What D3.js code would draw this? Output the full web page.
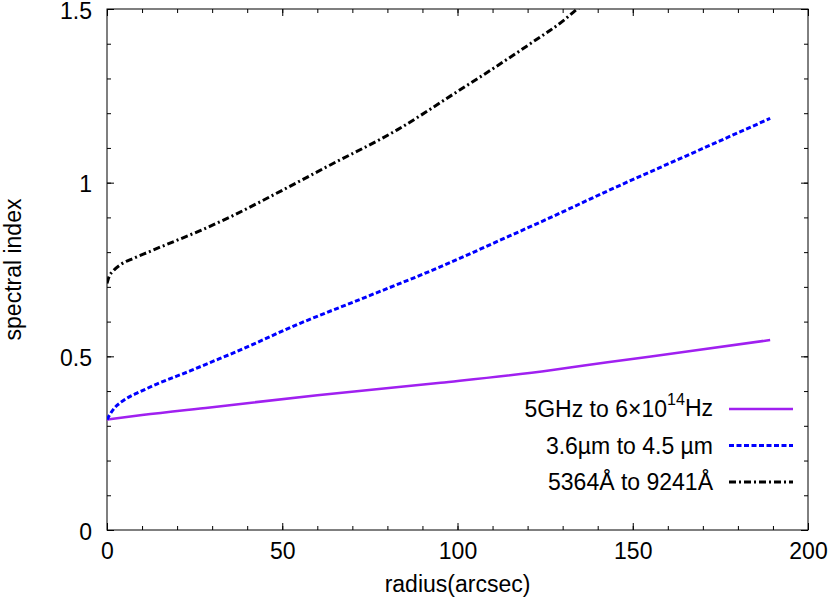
<!DOCTYPE html>
<html>
<head>
<meta charset="utf-8">
<script src="https://cdn.jsdelivr.net/npm/d3@7"></script>
<style>
  body { margin: 0; background: #fff; }
  svg text { font-family: "Liberation Sans", Arial, sans-serif; fill: #000; }
</style>
</head>
<body>
<div id="chart"></div>
<script>
// data
var radioX   = [0, 10, 29.4, 60, 95.2, 126.6, 142.8, 165, 189.2];
var radioY   = [0.318, 0.331, 0.353, 0.388, 0.424, 0.460, 0.483, 0.513, 0.547];

var irX      = [0, 0.9, 2.2, 4, 6.5, 9.4, 14.2, 23.7, 29.4, 36.1, 55.1, 74.2, 95.2, 112.3, 126.6, 142.8, 165, 189.2];
var irY      = [0.318, 0.334, 0.352, 0.368, 0.384, 0.398, 0.420, 0.458, 0.482, 0.510, 0.595, 0.672, 0.758, 0.835, 0.900, 0.976, 1.076, 1.185];

var optX     = [0, 0.5, 1.8, 4, 7.5, 12, 17, 26.6, 36.1, 50, 63.7, 82.8, 99.9, 111.3, 120.9, 130.4, 134.2, 136];
var optY     = [0.710, 0.727, 0.746, 0.765, 0.782, 0.801, 0.822, 0.862, 0.906, 0.978, 1.051, 1.152, 1.262, 1.336, 1.401, 1.468, 1.500, 1.512];

var xTicks = [0, 50, 100, 150, 200];
var yTicks = [0, 0.5, 1, 1.5];

//MarK: layout
var margin = {top: 9, right: 22, bottom: 73, left: 107};
var width = 830 - margin.left - margin.right;
var height = 603 - margin.top - margin.bottom;
var fontSize = 23;

var x = d3.scaleLinear().domain([0, 200]).range([0, width]);
var y = d3.scaleLinear().domain([0, 1.5]).range([height, 0]);

var svg = d3.select("#chart").append("svg")
  .attr("width", 830)
  .attr("height", 603)
  .append("g")
  .attr("transform", "translate(" + margin.left + "," + margin.top + ")");

svg.append("clipPath").attr("id", "clip")
  .append("rect").attr("width", width).attr("height", height);

//minor ticks first, then major ticks with labels
var xMinor = d3.range(0, 201, 10);
var yMinor = d3.range(0, 1.51, 0.1);

function tickGroup(axis, transform) {
  var g = svg.append("g").attr("transform", transform || null).call(axis);
  g.select(".domain").remove();
  g.selectAll("line").attr("stroke", "#000");
  return g;
}

// bottom
tickGroup(d3.axisBottom(x).tickValues(xMinor).tickSize(-4).tickFormat(""), "translate(0," + height + ")");
tickGroup(d3.axisBottom(x).tickValues(xTicks).tickSize(-7).tickPadding(13), "translate(0," + height + ")")
  .selectAll("text").attr("font-size", fontSize).attr("dy", "0.71em");
// top
tickGroup(d3.axisTop(x).tickValues(xMinor).tickSize(-4).tickFormat(""));
tickGroup(d3.axisTop(x).tickValues(xTicks).tickSize(-7).tickFormat(""));
// left
tickGroup(d3.axisLeft(y).tickValues(yMinor).tickSize(-4).tickFormat(""));
tickGroup(d3.axisLeft(y).tickValues(yTicks).tickSize(-7).tickPadding(15).tickFormat(d3.format("")))
  .selectAll("text").attr("font-size", fontSize).attr("dy", "0.4em");
// right
tickGroup(d3.axisRight(y).tickValues(yMinor).tickSize(-4).tickFormat(""), "translate(" + width + ",0)");
tickGroup(d3.axisRight(y).tickValues(yTicks).tickSize(-7).tickFormat(""), "translate(" + width + ",0)");

svg.append("rect")
  .attr("width", width)
  .attr("height", height)
  .attr("fill", "none")
  .attr("stroke", "#000")
  .attr("stroke-width", 1);

//axis titles
svg.append("text")
  .attr("x", width / 2)
  .attr("y", height + 62)
  .attr("text-anchor", "middle")
  .attr("font-size", fontSize)
  .text("radius(arcsec)");

svg.append("text")
  .attr("transform", "translate(" + (13 - margin.left) + "," + (height / 2) + ") rotate(-90)")
  .attr("dy", "0.35em")
  .attr("text-anchor", "middle")
  .attr("font-size", fontSize)
  .text("spectral index");

//MarK: series
var series = [
  {name: "radio", xs: radioX, ys: radioY, color: "#a020f0", dash: null, w: 2.5},
  {name: "ir", xs: irX, ys: irY, color: "#0000ff", dash: "5,2.5", w: 3},
  {name: "opt", xs: optX, ys: optY, color: "#000000", dash: "7,3,2,3", w: 3}
];

var line = d3.line()
  .curve(d3.curveMonotoneX)
  .x(function(d) { return x(d[0]); })
  .y(function(d) { return y(d[1]); });

svg.append("g")
  .attr("clip-path", "url(#clip)")
  .selectAll("path")
  .data(series)
  .enter().append("path")
  .attr("fill", "none")
  .attr("stroke", function(d) { return d.color; })
  .attr("stroke-width", function(d) { return d.w; })
  .attr("stroke-dasharray", function(d) { return d.dash; })
  .attr("d", function(d) {
    return line(d.xs.map(function(v, i) { return [v, d.ys[i]]; }));
  });

//MarK: legend
var legend = svg.append("g")
  .selectAll("g")
  .data(series)
  .enter().append("g")
  .attr("transform", function(d, i) { return "translate(0," + (400 + i * 36.5) + ")"; });

legend.append("line")
  .attr("x1", 729 - margin.left)
  .attr("x2", 793 - margin.left)
  .attr("stroke", function(d) { return d.color; })
  .attr("stroke-width", function(d) { return d.w; })
  .attr("stroke-dasharray", function(d) { return d.dash; });

var lt = legend.append("text")
  .attr("x", 713 - margin.left)
  .attr("dy", "0.35em")
  .attr("text-anchor", "end")
  .attr("font-size", fontSize);

lt.filter(function(d) { return d.name === "radio"; }).each(function() {
  var t = d3.select(this);
  t.append("tspan").text("5GHz to 6\u00d710");
  t.append("tspan").attr("font-size", fontSize * 0.7).attr("dy", "-0.75em").text("14");
  t.append("tspan").attr("dy", "0.5em").text("Hz");
});
lt.filter(function(d) { return d.name === "ir"; }).text("3.6\u00b5m to 4.5 \u00b5m");
lt.filter(function(d) { return d.name === "opt"; }).text("5364\u00c5 to 9241\u00c5");
</script>
</body>
</html>
